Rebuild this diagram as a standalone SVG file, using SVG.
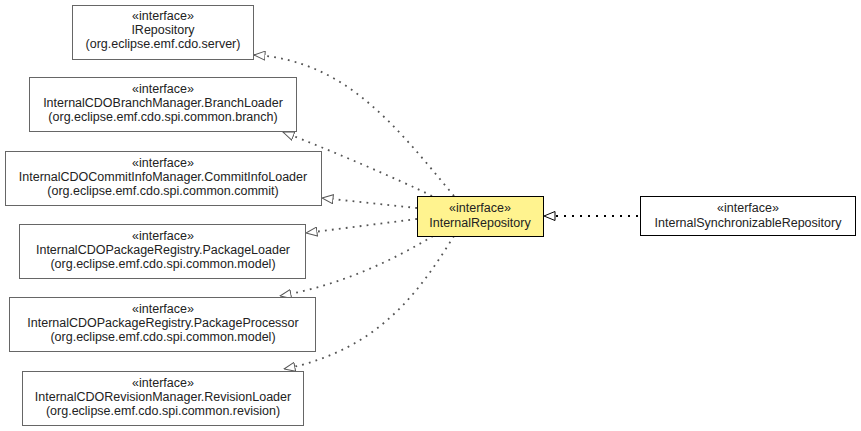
<svg xmlns="http://www.w3.org/2000/svg" width="861" height="431" viewBox="0 0 861 431">
<style>
.box{fill:#fff;stroke:#666;stroke-width:1}
.sel{fill:#fff38f;stroke:#000;stroke-width:1}
.blk{fill:#fff;stroke:#000;stroke-width:1}
text{font-family:"Liberation Sans",Arial,sans-serif;font-size:12.5px;fill:#222;text-anchor:middle}
.e{fill:none;stroke:#555;stroke-width:1.8;stroke-dasharray:1.8,5.2}
.e2{fill:none;stroke:#000;stroke-width:2;stroke-dasharray:2,6}
</style>
<defs>
<marker id="tri" viewBox="0 0 12 10" refX="11.5" refY="5" markerWidth="12" markerHeight="10" markerUnits="userSpaceOnUse" orient="auto">
<path d="M0.5,0.5 L11.5,5 L0.5,9.5 Z" fill="#fff" stroke="#555" stroke-width="1"/>
</marker>
<marker id="triB" viewBox="0 0 12 10" refX="11.5" refY="5" markerWidth="12" markerHeight="10" markerUnits="userSpaceOnUse" orient="auto">
<path d="M0.5,0.5 L11.5,5 L0.5,9.5 Z" fill="#fff" stroke="#000" stroke-width="1"/>
</marker>
</defs>
<g id="connectors">
<path class="e" d="M454,196 C395,125 345,60 254,55" marker-end="url(#tri)"/>
<path class="e" d="M432,196 C400,180 330,150 283,132" marker-end="url(#tri)"/>
<path class="e" d="M417,208 L322,198" marker-end="url(#tri)"/>
<path class="e" d="M417,219 L306,233" marker-end="url(#tri)"/>
<path class="e" d="M433,236 C390,262 340,285 280,296" marker-end="url(#tri)"/>
<path class="e" d="M454,236 C420,290 380,350 284,369" marker-end="url(#tri)"/>
<path class="e2" d="M638,216 L544,216" marker-end="url(#triB)"/>
</g>
<g id="IRepository">
<rect class="box" x="72.5" y="5.5" width="181" height="54"/>
<text x="163" y="20">«interface»</text>
<text x="163" y="34">IRepository</text>
<text x="163" y="48">(org.eclipse.emf.cdo.server)</text>
</g>
<g id="BranchLoader">
<rect class="box" x="29.5" y="77.5" width="267" height="54"/>
<text x="163" y="93">«interface»</text>
<text x="163" y="107">InternalCDOBranchManager.BranchLoader</text>
<text x="163" y="121">(org.eclipse.emf.cdo.spi.common.branch)</text>
</g>
<g id="CommitInfoLoader">
<rect class="box" x="5.5" y="151.5" width="316" height="54"/>
<text x="163" y="167">«interface»</text>
<text x="163" y="181">InternalCDOCommitInfoManager.CommitInfoLoader</text>
<text x="163" y="195">(org.eclipse.emf.cdo.spi.common.commit)</text>
</g>
<g id="PackageLoader">
<rect class="box" x="19.5" y="224.5" width="286" height="54"/>
<text x="163" y="240">«interface»</text>
<text x="163" y="254">InternalCDOPackageRegistry.PackageLoader</text>
<text x="163" y="268">(org.eclipse.emf.cdo.spi.common.model)</text>
</g>
<g id="PackageProcessor">
<rect class="box" x="9.5" y="297.5" width="306" height="54"/>
<text x="163" y="313">«interface»</text>
<text x="163" y="327">InternalCDOPackageRegistry.PackageProcessor</text>
<text x="163" y="341">(org.eclipse.emf.cdo.spi.common.model)</text>
</g>
<g id="RevisionLoader">
<rect class="box" x="22.5" y="371.5" width="281" height="54"/>
<text x="163" y="387">«interface»</text>
<text x="163" y="401">InternalCDORevisionManager.RevisionLoader</text>
<text x="163" y="415">(org.eclipse.emf.cdo.spi.common.revision)</text>
</g>
<g id="InternalRepository">
<rect class="sel" x="417.5" y="196.5" width="126" height="40"/>
<text x="480" y="212">«interface»</text>
<text x="480" y="227">InternalRepository</text>
</g>
<g id="InternalSynchronizableRepository">
<rect class="blk" x="640.5" y="196.5" width="215" height="39"/>
<text x="748" y="212">«interface»</text>
<text x="748" y="227">InternalSynchronizableRepository</text>
</g>
</svg>
